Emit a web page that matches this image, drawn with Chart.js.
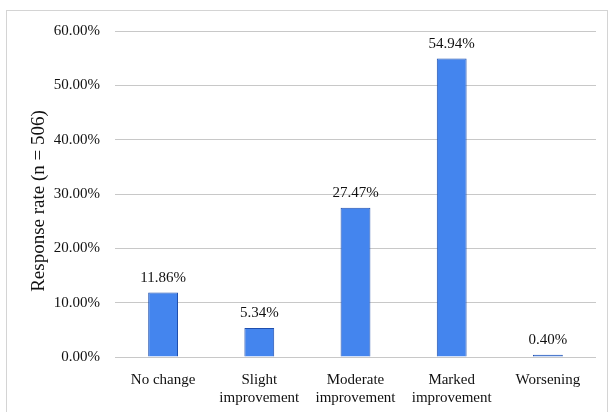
<!DOCTYPE html>
<html>
<head>
<meta charset="utf-8">
<script src="https://cdn.jsdelivr.net/npm/chart.js@4"></script>
<style>
  html, body { margin: 0; padding: 0; background: #fff; }
  #wrap { position: relative; width: 609px; height: 412px; }
  #frame {
    position: absolute; left: 6px; top: 10px; width: 602px; height: 410px;
    border: 1px solid #d4d4d4; box-sizing: border-box; pointer-events: none;
  }
</style>
</head>
<body>
<div id="wrap">
  <canvas id="chart" width="609" height="412"></canvas>
  <div id="frame"></div>
</div>
<script>
const categories = ['No change', ['Slight', 'improvement'], ['Moderate', 'improvement'], ['Marked', 'improvement'], 'Worsening'];
const responseRates = [11.86, 5.34, 27.47, 54.94, 0.40];
const yTicks = [0, 10, 20, 30, 40, 50, 60];
const yTitle = 'Response rate (n = 506)';

const serif = '"Liberation Serif", "Times New Roman", serif';
const ink = '#111';

// étiquettes de valeur au-dessus des barres + titre vertical
const valueLabels = {
    id: 'valueLabels',
    afterDatasetsDraw(chart) {
        const { ctx, chartArea } = chart;
        const meta = chart.getDatasetMeta(0);
        ctx.save();
        ctx.font = '15px ' + serif;
        ctx.fillStyle = ink;
        ctx.textAlign = 'center';
        ctx.textBaseline = 'bottom';
        meta.data.forEach((bar, i) => {
            ctx.fillText(responseRates[i].toFixed(2) + '%', bar.x, bar.y - 7);
        });

        ctx.translate(39, (chartArea.top + chartArea.bottom) / 2 + 7);
        ctx.rotate(-Math.PI / 2);
        ctx.font = '19px ' + serif;
        ctx.textBaseline = 'middle';
        ctx.fillText(yTitle, 0, 0);
        ctx.restore();
    },
};

new Chart(document.getElementById('chart'), {
    type: 'bar',
    data: {
        labels: categories,
        datasets: [
            {
                data: responseRates,
                backgroundColor: '#4485ee',
                borderColor: '#1f4fae',
                borderWidth: 1,
                barPercentage: 0.62,
                categoryPercentage: 0.5,
            },
        ],
    },
    options: {
        responsive: false,
        animation: false,
        layout: { padding: { left: 27, right: 13, top: 31, bottom: 0 } },
        plugins: { legend: { display: false }, tooltip: { enabled: false } },
        scales: {
            x: {
                grid: { display: false },
                border: { display: false },
                ticks: {
                    color: ink,
                    font: { family: serif, size: 15 },
                    padding: 6,
                    maxRotation: 0,
                    autoSkip: false,
                },
                afterFit(scale) {
                    scale.height = 55;
                },
            },
            y: {
                min: 0,
                max: 60,
                border: { display: false },
                grid: { color: '#c8c8c8', lineWidth: 1, drawTicks: false },
                afterBuildTicks(scale) {
                    scale.ticks = yTicks.map((v) => ({ value: v }));
                },
                ticks: {
                    color: ink,
                    font: { family: serif, size: 15 },
                    padding: 15,
                    callback: (v) => v.toFixed(2) + '%',
                },
                afterFit(scale) {
                    scale.width = 88;
                },
            },
        },
    },
    plugins: [valueLabels],
});
</script>
</body>
</html>
